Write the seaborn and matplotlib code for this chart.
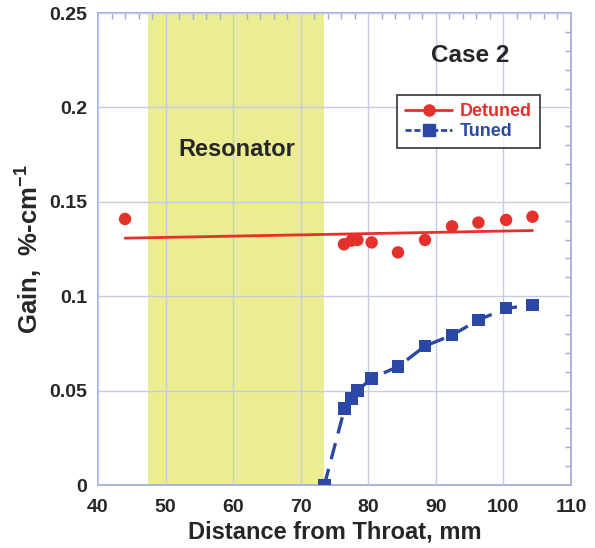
import matplotlib
matplotlib.use("Agg")
import matplotlib.pyplot as plt
from matplotlib.lines import Line2D
from matplotlib.ticker import MultipleLocator
import numpy as np
import pandas as pd
import seaborn as sns

# Measured gain along the channel
detuned_x = [44.0, 76.4, 77.5, 78.4, 80.5, 84.4, 88.4, 92.4, 96.3, 100.4, 104.3]
detuned_gain = [0.1409, 0.1275, 0.1294, 0.1298, 0.1285, 0.1232, 0.1298, 0.1370, 0.1390, 0.1404, 0.1421]

tuned_x = [73.5, 76.5, 77.5, 78.4, 80.5, 84.4, 88.4, 92.4, 96.3, 100.4, 104.3]
tuned_gain = [0.0, 0.0406, 0.0459, 0.0500, 0.0565, 0.0627, 0.0736, 0.0794, 0.0874, 0.0936, 0.0953]

# Resonator extent along the channel (mm)
resonator_span = [47.4, 73.5]

RED = "#e5312b"
BLUE = "#2b48a6"
GRID = "#c3cbe6"
SPINE = "#9eabd9"

sns.set_style("white")
plt.rcParams["font.family"] = ["Liberation Sans", "DejaVu Sans"]
plt.rcParams["font.weight"] = "bold"
plt.rcParams["mathtext.fontset"] = "custom"
plt.rcParams["mathtext.rm"] = "Liberation Sans:bold"
plt.rcParams["mathtext.bf"] = "Liberation Sans:bold"
plt.rcParams["mathtext.default"] = "bf"

fig = plt.figure(figsize=(5.95, 5.48), dpi=100)
ax = fig.add_axes([98 / 595, 63 / 548, 473 / 595, 472 / 548])

det = pd.DataFrame({"x": detuned_x, "gain": detuned_gain})
tun = pd.DataFrame({"x": tuned_x, "gain": tuned_gain})

ax.axvspan(resonator_span[0], resonator_span[1], color="#ecec91", zorder=0, lw=0)

# Linear trend through the detuned measurements
coef = np.polyfit(det["x"], det["gain"], 1)
trend = pd.DataFrame({"x": [det["x"].min(), det["x"].max()]})
trend["gain"] = np.polyval(coef, trend["x"])
sns.lineplot(data=trend, x="x", y="gain", ax=ax, color=RED, lw=2, zorder=3)
sns.scatterplot(data=det, x="x", y="gain", ax=ax, color=RED, s=80,
                marker="o", edgecolor="none", zorder=4)

sns.lineplot(data=tun, x="x", y="gain", ax=ax, color=BLUE, lw=2.4, zorder=3,
             linestyle=(0, (5, 3)))
sns.scatterplot(data=tun, x="x", y="gain", ax=ax, color=BLUE, s=80,
                marker="s", edgecolor="none", zorder=4)

ax.set_xlim(40, 110)
ax.set_ylim(0, 0.25)
ax.xaxis.set_major_locator(MultipleLocator(10))
ax.xaxis.set_minor_locator(MultipleLocator(2))
ax.yaxis.set_minor_locator(MultipleLocator(0.01))
ax.set_yticks([0, 0.05, 0.1, 0.15, 0.2, 0.25])
ax.set_yticklabels(["0", "0.05", "0.1", "0.15", "0.2", "0.25"])

ax.grid(True, which="major", color=GRID, lw=1.0, zorder=1)
ax.set_axisbelow(False)
for sp in ax.spines.values():
    sp.set_color(SPINE)
    sp.set_linewidth(1.3)
ax.tick_params(which="both", direction="in", top=True, right=True,
               color=SPINE, labelsize=14)
ax.tick_params(axis="x", which="major", pad=10)
ax.tick_params(axis="y", which="major", pad=8)
ax.tick_params(which="major", length=0)
ax.tick_params(which="minor", length=4, width=1)
for lab in ax.get_xticklabels() + ax.get_yticklabels():
    lab.set_fontweight("bold")

ax.set_xlabel("Distance from Throat, mm", fontsize=17, fontweight="bold", labelpad=3)
ax.set_ylabel("Gain,  %-cm$^{-1}$", fontsize=18.5, fontweight="bold", labelpad=3)

ax.text((470 - 98) / 473, (485 - 55) / 472, "Case 2", transform=ax.transAxes,
        fontsize=17.5, fontweight="bold", ha="center", va="center")
ax.text((237 - 98) / 473, (485 - 150) / 472, "Resonator", transform=ax.transAxes,
        fontsize=17, fontweight="bold", ha="center", va="center")

handles = [
    Line2D([], [], color=RED, lw=2, marker="o", markersize=8),
    Line2D([], [], color=BLUE, lw=2, marker="s", markersize=8, linestyle=(0, (2.2, 1))),
]
leg = ax.legend(handles, ["Detuned", "Tuned"], loc="upper left",
                bbox_to_anchor=((397 - 98) / 473, (485 - 95) / 472), frameon=True,
                fancybox=False, fontsize=13, handlelength=2.6, handletextpad=0.45,
                borderpad=0.45, labelspacing=0.15, borderaxespad=0)
leg.get_frame().set_edgecolor("black")
leg.get_frame().set_linewidth(1.2)
for txt, c in zip(leg.get_texts(), [RED, BLUE]):
    txt.set_color(c)
    txt.set_fontweight("bold")

fig.savefig("out.png", dpi=100)
